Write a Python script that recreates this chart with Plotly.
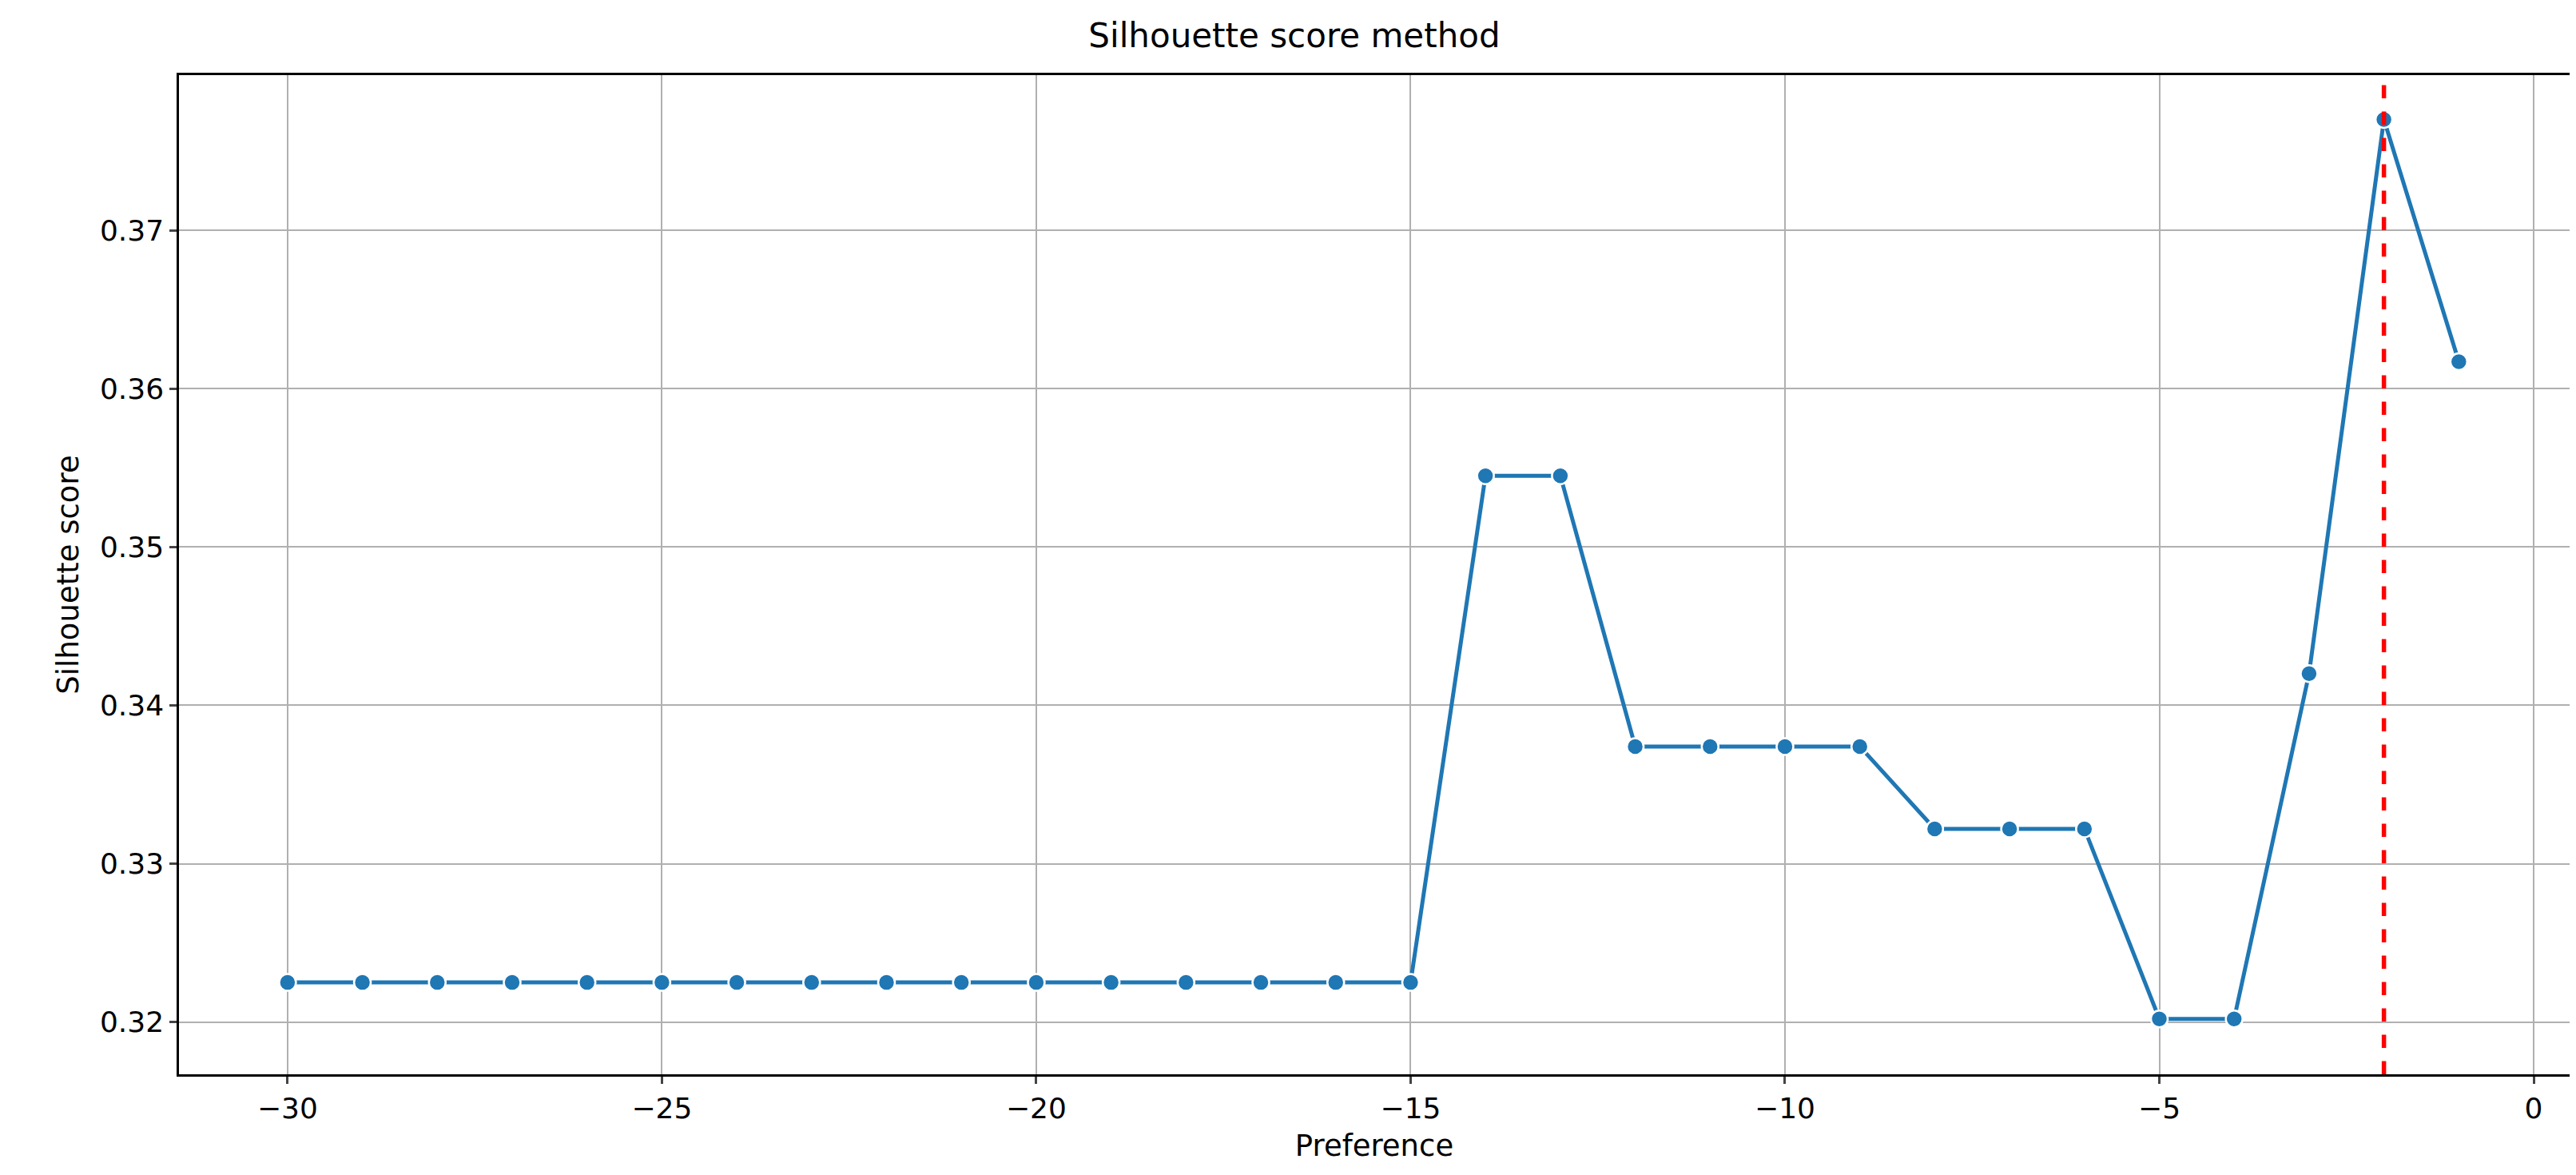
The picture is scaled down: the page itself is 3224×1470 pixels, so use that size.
import plotly.graph_objects as go

preference = list(range(-30, 0))
scores = [0.3225]*16 + [0.3545, 0.3545, 0.3374, 0.3374, 0.3374, 0.3374,
                        0.3322, 0.3322, 0.3322, 0.3202, 0.3202, 0.3420, 0.3770, 0.3617]
best_pref = -2

fig = go.Figure()
fig.add_trace(go.Scatter(x=preference, y=scores, mode="lines+markers",
                         line=dict(color="#1f77b4", width=5),
                         marker=dict(size=21, color="#1f77b4", line=dict(color="white", width=2.5))))
fig.add_vline(x=best_pref, line=dict(color="red", width=5.5, dash="dash"))

ax = dict(showline=True, mirror=True, linecolor="black", linewidth=2.5,
          showgrid=True, gridcolor="#b0b0b0", gridwidth=2, ticks="outside",
          ticklen=9, tickwidth=2.5, zeroline=False,
          tickfont=dict(size=36, color="black"))
fig.update_layout(
    width=3224, height=1470, plot_bgcolor="white", paper_bgcolor="white",
    font=dict(family="DejaVu Sans", color="black"),
    title=dict(text="Silhouette score method", x=0.5, y=0.985, xanchor="center",
               font=dict(size=42)),
    margin=dict(l=216, r=16, t=86, b=134), showlegend=False,
    xaxis=dict(ax, range=[-31.45, 0.48], tickvals=[-30, -25, -20, -15, -10, -5, 0],
               ticktext=["−30", "−25", "−20", "−15", "−10", "−5", "0"],
               title=dict(text="Preference", font=dict(size=37))),
    yaxis=dict(ax, range=[0.3167, 0.3798], tickvals=[0.32, 0.33, 0.34, 0.35, 0.36, 0.37],
               tickformat=".2f", title=dict(text="Silhouette score", font=dict(size=37))),
)
fig.write_html("out.html")
